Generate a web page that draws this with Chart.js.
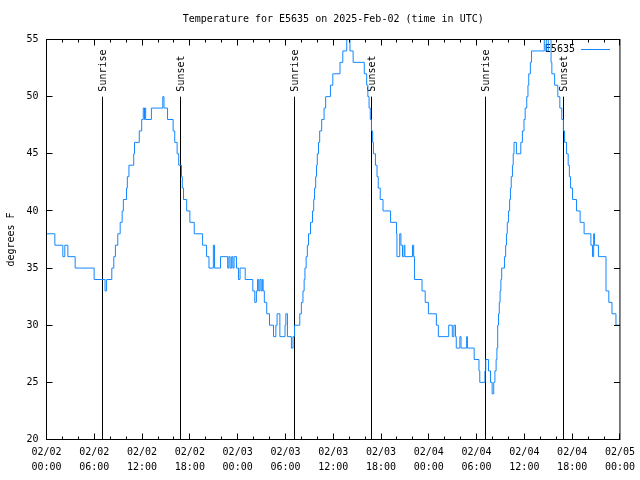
<!DOCTYPE html>
<html>
<head>
<meta charset="utf-8">
<title>Temperature for E5635</title>
<script src="https://cdn.jsdelivr.net/npm/chart.js@4"></script>
<style>
  html, body { margin: 0; padding: 0; background: #fff; }
  canvas { display: block; }
</style>
</head>
<body>
<canvas id="tempChart" width="640" height="480"></canvas>
<script>
// DATA (hours since 02/02 00:00 UTC, degrees F)
const hours = [
  0, 1.05, 2.05, 2.3, 2.68, 3.6, 5.98, 7.35, 7.55, 8.2,
  8.45, 8.65, 8.95, 9.25, 9.5, 9.65, 10.05, 10.15, 10.35, 10.95,
  11.05, 11.65, 11.95, 12.15, 12.3, 12.35, 12.45, 13.17, 14.6, 14.75,
  15.2, 15.9, 16.1, 16.4, 16.6, 16.95, 17.05, 17.2, 17.6, 18.0,
  18.55, 19.6, 20.1, 20.4, 20.95, 21.1, 21.85, 22.75, 22.9, 23.05,
  23.25, 23.4, 23.55, 23.85, 24.1, 24.3, 24.95, 25.9, 26.15, 26.35,
  26.5, 26.65, 26.8, 26.95, 27.1, 27.2, 27.35, 27.65, 28.0, 28.5,
  28.8, 28.95, 29.3, 29.95, 30.05, 30.25, 30.75, 30.95, 31.15, 31.8,
  32.0, 32.2, 32.35, 32.45, 32.6, 32.75, 32.9, 33.15, 33.4, 33.55,
  33.65, 33.8, 33.9, 34.0, 34.15, 34.3, 34.55, 34.85, 35.05, 35.65,
  35.95, 36.85, 37.2, 37.7, 38.1, 38.5, 39.9, 40.2, 40.35, 40.5,
  40.65, 40.8, 40.95, 41.05, 41.3, 41.5, 41.65, 41.9, 42.25, 43.2,
  43.95, 44.0, 44.35, 44.5, 44.7, 44.9, 45.0, 45.95, 46.1, 46.2,
  47.15, 47.55, 47.95, 48.95, 49.2, 50.5, 50.95, 51.15, 51.35, 51.45,
  51.9, 52.05, 52.75, 52.85, 53.7, 54.3, 54.4, 55.05, 55.15, 55.5,
  55.75, 55.95, 56.15, 56.3, 56.45, 56.55, 56.65, 56.75, 56.85, 56.95,
  57.05, 57.15, 57.5, 57.65, 57.75, 57.85, 58.0, 58.15, 58.25, 58.35,
  58.5, 58.6, 58.7, 59.0, 59.55, 59.75, 59.95, 60.1, 60.3, 60.45,
  60.55, 60.75, 60.9, 62.5, 62.75, 63.0, 63.35, 63.45, 63.8, 64.2,
  64.45, 64.7, 64.9, 65.05, 65.3, 65.5, 65.65, 65.8, 66.05, 66.55,
  67.0, 67.5, 68.35, 68.55, 68.7, 68.8, 69.3, 70.25, 70.6, 71.0,
  71.5, 72
];
const temps = [
  38, 37, 36, 37, 36, 35, 34, 33, 34, 35,
  36, 37, 38, 39, 40, 41, 42, 43, 44, 45,
  46, 47, 48, 49, 48, 49, 48, 49, 50, 49,
  48, 47, 46, 45, 44, 43, 42, 41, 40, 39,
  38, 37, 36, 35, 37, 35, 36, 35, 36, 35,
  36, 35, 36, 35, 34, 35, 34, 33, 32, 33,
  34, 33, 34, 33, 34, 33, 32, 31, 30, 29,
  30, 31, 29, 30, 31, 29, 28, 29, 30, 31,
  32, 33, 34, 35, 36, 37, 38, 39, 40, 41,
  42, 43, 44, 45, 46, 47, 48, 49, 50, 51,
  52, 53, 54, 55, 54, 53, 52, 51, 50, 49,
  48, 47, 46, 45, 44, 43, 42, 41, 40, 39,
  38, 36, 38, 37, 36, 37, 36, 37, 36, 34,
  33, 32, 31, 30, 29, 30, 29, 30, 29, 28,
  29, 28, 29, 28, 27, 26, 25, 26, 27, 26,
  25, 24, 25, 26, 27, 28, 30, 31, 32, 33,
  34, 35, 36, 37, 38, 39, 40, 41, 42, 43,
  44, 45, 46, 45, 46, 47, 48, 49, 50, 51,
  52, 53, 54, 55, 54, 55, 53, 52, 51, 50,
  49, 48, 47, 46, 45, 44, 43, 42, 41, 40,
  39, 38, 37, 36, 38, 37, 36, 33, 32, 31,
  30, 30
];

const tickDates = ["02/02", "02/02", "02/02", "02/02", "02/03", "02/03", "02/03",
                   "02/03", "02/04", "02/04", "02/04", "02/04", "02/05"];
const tickTimes = ["00:00", "06:00", "12:00", "18:00", "00:00", "06:00", "12:00",
                   "18:00", "00:00", "06:00", "12:00", "18:00", "00:00"];

const sunHours = [7.02, 16.81, 31.11, 40.83, 55.13, 64.91];
const sunLabels = ["Sunrise", "Sunset", "Sunrise", "Sunset", "Sunrise", "Sunset"];
const sunLineTop = 50;

const stationName = "E5635";
const lineColor = "#1287ff";
const FONT = "DejaVu Sans Mono";

// FRAME, TICKS, SUN MARKERS, LEGEND
const gnuplotFrame = {
  id: "gnuplotFrame",
  beforeDatasetsDraw(chart) {
    const { ctx, chartArea: a, scales: { x, y } } = chart;
    ctx.save();
    ctx.strokeStyle = "#000";
    ctx.fillStyle = "#000";
    ctx.lineWidth = 1;
    ctx.font = `10px "${FONT}"`;

    // sunrise / sunset lines
    sunHours.forEach((h, i) => {
      const px = Math.floor(x.getPixelForValue(h)) + 0.5;
      const top = y.getPixelForValue(sunLineTop);
      ctx.beginPath();
      ctx.moveTo(px, top);
      ctx.lineTo(px, a.bottom);
      ctx.stroke();
      ctx.save();
      ctx.translate(px + 1, top - 5);
      ctx.rotate(-Math.PI / 2);
      ctx.textAlign = "left";
      ctx.textBaseline = "middle";
      ctx.fillText(sunLabels[i], 0, 0);
      ctx.restore();
    });

    // legend
    ctx.textAlign = "right";
    ctx.textBaseline = "middle";
    ctx.fillText(stationName, a.right - 45, a.top + 10);
    ctx.strokeStyle = lineColor;
    ctx.beginPath();
    ctx.moveTo(a.right - 39, a.top + 10);
    ctx.lineTo(a.right - 10, a.top + 10);
    ctx.stroke();
    ctx.restore();
  },
  afterDatasetsDraw(chart) {
    const { ctx, chartArea: a, scales: { x, y } } = chart;
    ctx.save();
    ctx.strokeStyle = "#000";
    ctx.lineWidth = 1;
    ctx.beginPath();
    // x ticks: major every 6 h, minor every 2 h
    for (let h = 0; h <= 72; h += 2) {
      const px = Math.floor(x.getPixelForValue(h)) + 0.5;
      const len = h % 6 === 0 ? 6 : 3;
      ctx.moveTo(px, a.bottom);
      ctx.lineTo(px, a.bottom - len);
      ctx.moveTo(px, a.top);
      ctx.lineTo(px, a.top + len);
    }
    // y ticks
    for (let v = 20; v <= 55; v += 5) {
      const py = Math.floor(y.getPixelForValue(v)) + 0.5;
      ctx.moveTo(a.left, py);
      ctx.lineTo(a.left + 6, py);
      ctx.moveTo(a.right, py);
      ctx.lineTo(a.right - 6, py);
    }
    ctx.stroke();
    ctx.strokeRect(a.left, a.top, a.right - a.left, a.bottom - a.top);
    ctx.restore();
  }
};

// CHART
const ctx = document.getElementById("tempChart");

new Chart(ctx, {
  type: "line",
  data: {
    datasets: [{
      label: stationName,
      data: hours.map((h, i) => ({ x: h, y: temps[i] })),
      borderColor: lineColor,
      borderWidth: 1,
      pointRadius: 0,
      stepped: true,
      fill: false
    }]
  },
  options: {
    responsive: false,
    animation: false,
    devicePixelRatio: 1,
    layout: { padding: { left: 0, right: 19.5, top: 0, bottom: 0 } },
    plugins: {
      legend: { display: false },
      tooltip: { enabled: false },
      title: {
        display: true,
        fullSize: false,
        text: "Temperature for E5635 on 2025-Feb-02 (time in UTC)",
        color: "#000",
        font: { family: FONT, size: 10, weight: "normal", lineHeight: 1.2 },
        padding: { top: 13, bottom: 14.5 }
      }
    },
    scales: {
      x: {
        type: "linear",
        min: 0,
        max: 72,
        grid: { display: false, drawTicks: false },
        border: { display: false },
        ticks: {
          stepSize: 6,
          autoSkip: false,
          maxRotation: 0,
          padding: 5,
          color: "#000",
          font: { family: FONT, size: 10, lineHeight: 1.5 },
          callback: (value) => {
            const i = Math.round(value / 6);
            return [tickDates[i], tickTimes[i]];
          }
        },
        afterFit: scale => { scale.height = 40.5; }
      },
      y: {
        min: 20,
        max: 55,
        grid: { display: false, drawTicks: false },
        border: { display: false },
        ticks: {
          stepSize: 5,
          padding: 8,
          color: "#000",
          font: { family: FONT, size: 10 }
        },
        title: {
          display: true,
          text: "degrees F",
          color: "#000",
          font: { family: FONT, size: 10, lineHeight: 1.2 },
          padding: { top: 5, bottom: 0 }
        },
        afterFit: scale => { scale.width = 46.5; }
      }
    }
  },
  plugins: [gnuplotFrame]
});
</script>
</body>
</html>
